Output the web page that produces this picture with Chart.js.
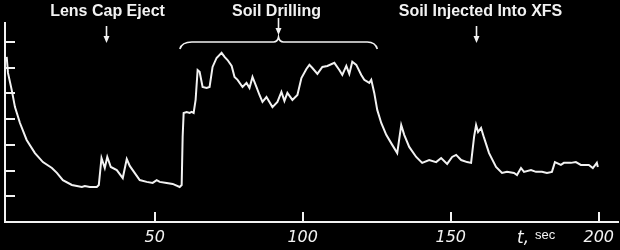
<!DOCTYPE html>
<html>
<head>
<meta charset="utf-8">
<script src="https://cdn.jsdelivr.net/npm/chart.js@4"></script>
<style>
  html, body { margin: 0; padding: 0; background: #000; }
  #wrap { width: 620px; height: 250px; position: relative; }
</style>
</head>
<body>
<div id="wrap"><canvas id="trace"></canvas></div>
<script>
// time in seconds, signal in tick units
const times = [0, 0.44, 1.69, 2.8, 4.48, 6.74, 9.54, 12.24, 15.27, 16.96, 18.98, 22.02, 25.39, 26.4, 28.08, 30.44,
  31.12, 32.03, 33.14, 33.98, 35.17, 37.19, 39.21, 40.56, 41.57, 44.94, 47.3, 49.32, 50.67, 51.69, 54.05, 56.07,
  58.43, 59.11, 59.44, 59.78, 60.79, 61.8, 62.48, 63.15, 63.82, 64.5, 65.17, 66.18, 67.53, 68.54, 69.55, 70.9,
  72.59, 73.6, 74.61, 76.0, 76.97, 77.99, 79.67, 81.02, 82.03, 83.04, 84.39, 85.4, 86.41, 87.76, 89.78, 91.46,
  92.81, 93.82, 94.83, 96.52, 98.21, 99.56, 101.24, 102.26, 103.27, 104.96, 106.64, 108.33, 110.69, 112.37,
  113.38, 114.73, 115.74, 116.75, 118.1, 119.79, 120.8, 122.49, 123.16, 124.17, 125.18, 126.53, 128.22, 130.24,
  131.93, 133.28, 134.29, 135.98, 138.34, 140.36, 142.72, 145.08, 146.77, 148.79, 150.48, 151.83, 153.52,
  155.54, 156.88, 157.89, 158.57, 159.24, 160.25, 161.27, 162.95, 165.31, 167.34, 169.02, 171.38, 172.39,
  173.74, 174.75, 177.11, 178.8, 180.82, 182.51, 184.19, 185.2, 187.22, 188.23, 190.59, 192.28, 193.96,
  196.66, 198.01, 199.36, 199.7];
const counts = [6.42, 5.8, 5.14, 4.47, 3.85, 3.19, 2.68, 2.33, 2.1, 1.91, 1.63, 1.44, 1.36, 1.4, 1.36, 1.36,
  1.44, 2.49, 2.1, 2.53, 2.14, 2.02, 1.71, 2.45, 2.18, 1.63, 1.56, 1.52, 1.63, 1.56, 1.52, 1.48,
  1.36, 1.44, 3.31, 4.24, 4.28, 4.24, 4.28, 4.24, 4.75, 5.91, 5.84, 5.25, 5.21, 5.25, 6.03, 6.38,
  6.58, 6.42, 6.3, 6.07, 5.64, 5.53, 5.25, 5.41, 5.21, 5.64, 5.25, 4.94, 4.67, 4.86, 4.47, 4.67,
  5.06, 4.71, 5.02, 4.75, 4.94, 5.6, 5.95, 6.11, 5.99, 5.76, 6.03, 6.07, 6.19, 5.91,
  5.72, 6.07, 5.76, 6.23, 6.11, 5.72, 5.53, 5.41, 5.53, 5.02, 4.36, 3.85, 3.39, 3.0,
  2.68, 3.77, 3.39, 2.92, 2.53, 2.3, 2.41, 2.33, 2.49, 2.26, 2.53, 2.61, 2.41,
  2.33, 2.3, 3.31, 3.77, 3.5, 3.66, 3.27, 2.68, 2.14, 1.91, 1.95, 1.91, 1.83,
  2.1, 1.95, 2.02, 1.95, 1.95, 1.91, 1.95, 2.33, 2.22, 2.3, 2.3, 2.33, 2.22,
  2.22, 2.1, 2.3, 2.14];
const xTicks = [50, 100, 150, 200];
const yTicks = [1, 2, 3, 4, 5, 6, 7];
const events = [
  { label: "Lens Cap Eject", t: 33.6 },
  { label: "Soil Drilling", t: 91.8, from: 58.5, to: 125.2 },
  { label: "Soil Injected Into XFS", t: 158.6 }
];

const ink = "#f2f2f2";

const scopePlugin = {
  id: "scope",
  beforeDraw(chart) {
    const ctx = chart.ctx;
    ctx.save();
    ctx.fillStyle = "#000";
    ctx.fillRect(0, 0, chart.width, chart.height);
    ctx.restore();
  },
  afterDraw(chart) {
    const ctx = chart.ctx;
    const xs = chart.scales.x, ys = chart.scales.y;
    const a = chart.chartArea;
    ctx.save();
    ctx.strokeStyle = ink;
    ctx.fillStyle = ink;
    ctx.lineWidth = 2;

    // inward tick marks
    xTicks.forEach(v => {
      const px = Math.round(xs.getPixelForValue(v));
      ctx.beginPath();
      ctx.moveTo(px, a.bottom);
      ctx.lineTo(px, a.bottom - 10);
      ctx.stroke();
    });
    yTicks.forEach(v => {
      const py = Math.round(ys.getPixelForValue(v));
      ctx.beginPath();
      ctx.moveTo(a.left, py);
      ctx.lineTo(a.left + 10, py);
      ctx.stroke();
    });

    // axis unit label
    ctx.textBaseline = "alphabetic";
    ctx.textAlign = "left";
    ctx.font = 'italic 17px "DejaVu Sans"';
    ctx.fillText("t,", 517, 243);
    ctx.font = '13px "Liberation Sans"';
    ctx.fillText("sec", 535, 239);

    // event labels and arrows
    ctx.font = 'bold 16px "Liberation Sans"';
    ctx.textAlign = "center";
    const arrow = (x, y0, y1) => {
      ctx.lineWidth = 1.6;
      ctx.beginPath();
      ctx.moveTo(x, y0);
      ctx.lineTo(x, y1 - 3);
      ctx.stroke();
      ctx.beginPath();
      ctx.moveTo(x - 3, y1 - 7);
      ctx.lineTo(x, y1);
      ctx.lineTo(x + 3, y1 - 7);
      ctx.closePath();
      ctx.fill();
    };
    events.forEach(e => {
      const px = Math.round(xs.getPixelForValue(e.t)) + 0.5;
      if (e.from !== undefined) {
        ctx.fillText(e.label, px - 2, 16);
        arrow(px, 18, 35);
        const l = xs.getPixelForValue(e.from), r = xs.getPixelForValue(e.to);
        ctx.lineWidth = 1.6;
        ctx.beginPath();
        ctx.moveTo(l, 49);
        ctx.quadraticCurveTo(l + 2, 42, l + 12, 42);
        ctx.lineTo(px - 5, 42);
        ctx.quadraticCurveTo(px - 1, 42, px, 37);
        ctx.quadraticCurveTo(px + 1, 42, px + 5, 42);
        ctx.lineTo(r - 10, 42);
        ctx.quadraticCurveTo(r - 2, 42, r, 49);
        ctx.stroke();
      } else {
        ctx.fillText(e.label, px + (e.t > 150 ? 4 : 1), 16);
        arrow(px, 26, 43);
      }
    });
    ctx.restore();
  }
};

new Chart(document.getElementById("trace"), {
  type: "line",
  data: {
    labels: times,
    datasets: [{
      data: times.map((t, i) => ({ x: t, y: counts[i] })),
      borderColor: ink,
      borderWidth: 2,
      pointRadius: 0,
      tension: 0,
      fill: false
    }]
  },
  options: {
    responsive: true,
    maintainAspectRatio: false,
    animation: false,
    layout: { padding: { top: 23, left: 5, right: 0, bottom: -3.2 } },
    plugins: { legend: { display: false }, tooltip: { enabled: false } },
    scales: {
      x: {
        type: "linear",
        min: -0.57,
        max: 206.8,
        afterBuildTicks: axis => { axis.ticks = xTicks.map(v => ({ value: v })); },
        grid: { display: false, drawTicks: false },
        border: { display: true, color: ink, width: 2 },
        ticks: {
          color: ink,
          padding: 6,
          maxRotation: 0,
          autoSkip: false,
          font: { family: "DejaVu Sans", style: "italic", size: 16 }
        }
      },
      y: {
        min: 0,
        max: 7.74,
        grid: { display: false, drawTicks: false },
        border: { display: true, color: ink, width: 2 },
        ticks: { display: false }
      }
    }
  },
  plugins: [scopePlugin]
});
</script>
</body>
</html>
